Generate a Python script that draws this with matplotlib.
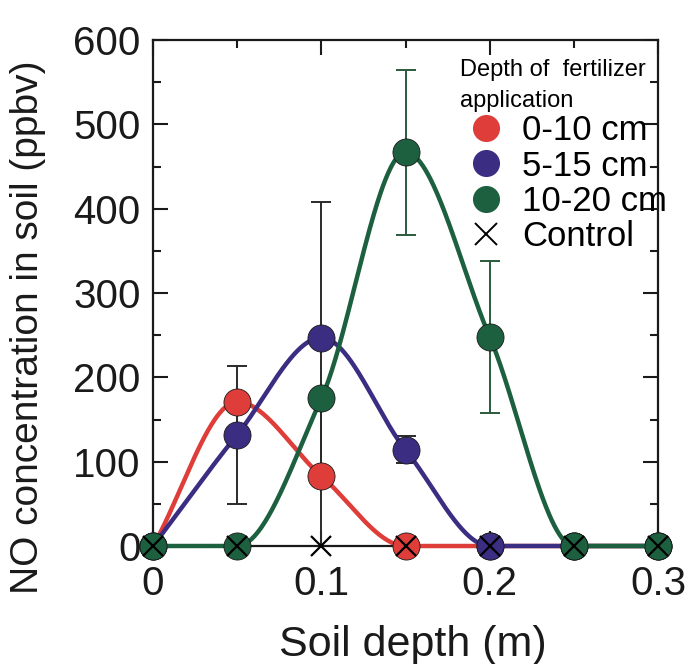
import numpy as np
import matplotlib.pyplot as plt
from matplotlib.lines import Line2D
from matplotlib.ticker import MultipleLocator

plt.rcParams['font.family'] = ['Liberation Sans', 'DejaVu Sans']

# soil depth (m)
depth = [0.0, 0.05, 0.10, 0.15, 0.20, 0.25, 0.30]

# NO concentration (ppbv) per fertilizer depth
no_0_10 = [0, 171, 83, 0, 0, 0, 0]
no_5_15 = [0, 132, 247, 114, 0, 0, 0]
no_10_20 = [0, 0, 175, 467, 248, 0, 0]
no_control = [0, 0, 0, 0, 0, 0, 0]

# standard deviations (only where bars are drawn)
err_0_10 = [0, 0, 83, 0, 0, 0, 0]
err_5_15 = [0, 82, 161, 16, 0, 0, 0]
err_10_20 = [0, 0, 0, 98, 90, 0, 0]

labels = ["0-10 cm", "5-15 cm", "10-20 cm", "Control"]
colors = ["#de3d39", "#3a2d82", "#1d6040"]
bar_colors = ["#2a2a2a", "#2a2a2a", "#2b5a3c"]


def pchip(x, y, xs):
    # monotone cubic (Fritsch-Carlson) so the curves don't overshoot
    x = np.asarray(x, float)
    y = np.asarray(y, float)
    h = np.diff(x)
    d = np.diff(y) / h
    n = len(x)
    m = np.zeros(n)
    m[0] = d[0]
    m[-1] = d[-1]
    for k in range(1, n - 1):
        if d[k - 1] * d[k] <= 0:
            m[k] = 0.0
        else:
            w1 = 2 * h[k] + h[k - 1]
            w2 = h[k] + 2 * h[k - 1]
            m[k] = (w1 + w2) / (w1 / d[k - 1] + w2 / d[k])
    idx = np.clip(np.searchsorted(x, xs) - 1, 0, n - 2)
    t = (xs - x[idx]) / h[idx]
    h00 = 2 * t**3 - 3 * t**2 + 1
    h10 = t**3 - 2 * t**2 + t
    h01 = -2 * t**3 + 3 * t**2
    h11 = t**3 - t**2
    return (h00 * y[idx] + h10 * h[idx] * m[idx]
            + h01 * y[idx + 1] + h11 * h[idx] * m[idx + 1])


fig = plt.figure(figsize=(6.85, 6.64), dpi=100)
ax = fig.add_axes([0.2234, 0.1777, 0.7372, 0.7620])

xs = np.linspace(depth[0], depth[-1], 600)
series = [(no_0_10, err_0_10), (no_5_15, err_5_15), (no_10_20, err_10_20)]
for i, (vals, err) in enumerate(series):
    z = 3 + i
    ax.plot(xs, pchip(depth, vals, xs), color=colors[i], lw=3.2,
            zorder=z, clip_on=False, solid_capstyle='round')
    for xv, yv, ev in zip(depth, vals, err):
        if ev > 0:
            ax.errorbar([xv], [yv], yerr=[ev], fmt='none',
                        ecolor=bar_colors[i], elinewidth=1.4, capsize=7.5,
                        capthick=1.4, zorder=2, clip_on=False)
    ax.plot(depth, vals, 'o', ms=19.5, color=colors[i], mec='#1a1a1a',
            mew=0.6, zorder=z + 0.5, clip_on=False)

ax.plot(depth, no_control, 'x', ms=15, mew=1.6, color='black',
        zorder=10, clip_on=False)

ax.set_xlim(0, 0.3)
ax.set_ylim(0, 600)
ax.xaxis.set_minor_locator(MultipleLocator(0.05))
ax.yaxis.set_major_locator(MultipleLocator(100))
ax.yaxis.set_minor_locator(MultipleLocator(50))
ax.set_xticks([0, 0.1, 0.2, 0.3])
ax.set_xticklabels(["0", "0.1", "0.2", "0.3"])

ax.tick_params(which='both', direction='in', top=True, right=True,
               width=1.5, labelsize=29, colors='#1a1a1a')
ax.tick_params(which='major', length=11)
ax.tick_params(which='minor', length=6)
ax.tick_params(axis='x', pad=14)
ax.tick_params(axis='y', pad=9)
for s in ax.spines.values():
    s.set_linewidth(1.6)
    s.set_color('#1a1a1a')

ax.set_xlabel("Soil depth (m)", fontsize=31, color='#1a1a1a', va='center')
ax.set_ylabel("NO concentration in soil (ppbv)", fontsize=28,
              color='#1a1a1a', va='center')
ax.xaxis.set_label_coords(0.515, -0.196)
ax.yaxis.set_label_coords(-0.2475, 0.433)

handles = [Line2D([], [], ls='none', marker='o', ms=19.5, color=c,
                  mec='none') for c in colors]
handles.append(Line2D([], [], ls='none', marker='x', ms=16, mew=1.4,
                      color='black'))
leg = ax.legend(handles, labels, loc='upper left',
                bbox_to_anchor=(0.608, 0.963), frameon=False,
                fontsize=25, title="Depth of  fertilizer\napplication",
                title_fontsize=17, alignment='left', labelspacing=0.065,
                handletextpad=0.28, handlelength=1.5, borderpad=0,
                borderaxespad=0)
leg.get_title().set_linespacing(1.55)
leg.set_zorder(20)

fig.savefig("out.png", dpi=100)
